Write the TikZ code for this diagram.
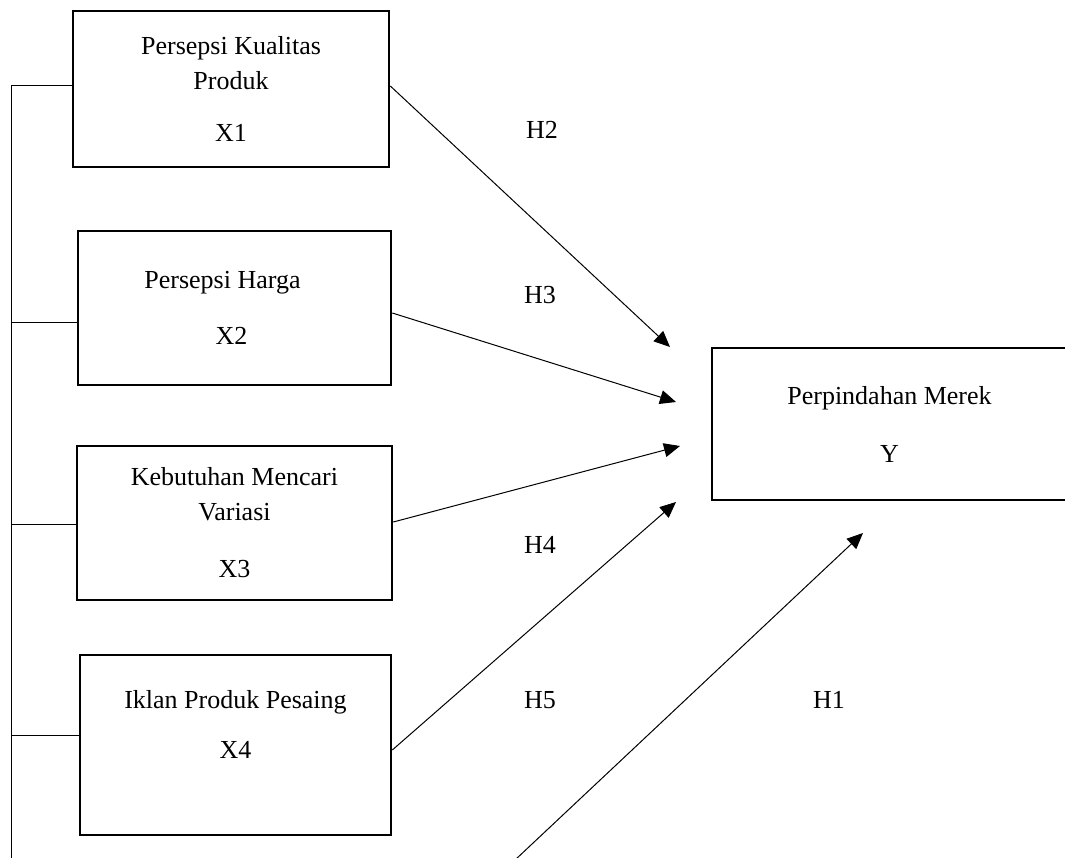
\documentclass[tikz,border=0pt]{standalone}
\usepackage{fontspec}
\setmainfont{Liberation Serif}
\usetikzlibrary{arrows.meta}
\begin{document}
\begin{tikzpicture}[x=1pt, y=-1pt]

    % Styles des noeuds
    \tikzstyle{varbox} = [rectangle, draw=black, line width=2.6pt, align=center, inner sep=0pt, font=\fontsize{26}{35}\selectfont]
    \tikzstyle{hipotesis} = [inner sep=0pt, font=\fontsize{26}{35}\selectfont]
    \tikzstyle{arrow} = [line width=1pt, -{Triangle[length=16pt, width=14pt]}]
    \tikzstyle{railline} = [line width=1pt]

    \useasboundingbox (0,0) rectangle (1065,858);

    % Noeuds
    \node (x1) [varbox, minimum width=316pt, minimum height=156pt] at (231,89) {Persepsi Kualitas\\Produk\\[17pt]X1};
    \node (x2) [varbox, minimum width=313pt, minimum height=154pt] at (234.5,308) {Persepsi Harga\hspace*{24pt}\\[21pt]X2\hspace*{6pt}};
    \node (x3) [varbox, minimum width=315pt, minimum height=154pt] at (234.5,523) {Kebutuhan Mencari\\Variasi\\[22pt]X3};
    \node (x4) [varbox, minimum width=311pt, minimum height=180pt] at (235.5,745) {Iklan Produk Pesaing\\[15pt]X4\\[6pt]\mbox{}};
    \node (y) [varbox, minimum width=355pt, minimum height=152pt] at (889.5,424) {Perpindahan Merek\\[23pt]Y};

    % Ujung panah
    \coordinate (tip2) at (670,347);
    \coordinate (tip3) at (676,402);
    \coordinate (tip4) at (680,446);
    \coordinate (tip5) at (676,502);
    \coordinate (tip1) at (863,533);
    \coordinate (foot1) at (515,860);
    \coordinate (railend) at (11,860);

    % Flèches
    \draw [arrow] ([yshift=3pt]x1.east) -- (tip2);
    \draw [arrow] ([yshift=-5pt]x2.east) -- (tip3);
    \draw [arrow] ([yshift=1pt]x3.east) -- (tip4);
    \draw [arrow] ([yshift=-5pt]x4.east) -- (tip5);
    \draw [arrow] (foot1) -- (tip1);

    % Garis kiri
    \draw [railline] (railend) |- ([yshift=3pt]x1.west);
    \draw [railline] ([yshift=-15pt]x2.west) -- ([yshift=-15pt]x2.west -| railend);
    \draw [railline] ([yshift=-1pt]x3.west) -- ([yshift=-1pt]x3.west -| railend);
    \draw [railline] ([yshift=10pt]x4.west) -- ([yshift=10pt]x4.west -| railend);

    % Annotations
    \node (h2) [hipotesis] at (542,130) {H2};
    \node (h3) [hipotesis] at (540,295) {H3};
    \node (h4) [hipotesis] at (540,545) {H4};
    \node (h5) [hipotesis] at (540,700) {H5};
    \node (h1) [hipotesis] at (829,700) {H1};

\end{tikzpicture}
\end{document}
